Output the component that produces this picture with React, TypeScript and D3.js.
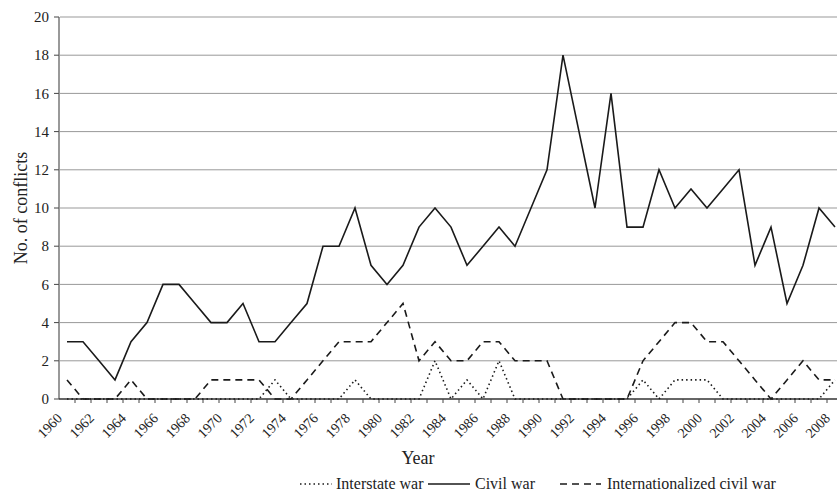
import { useMemo } from "react";
import { scaleBand, scaleLinear, line, range } from "d3";

const years = range(1960, 2009);
const civilWar = [
  3, 3, 2, 1, 3, 4, 6, 6, 5, 4, 4, 5, 3, 3, 4, 5, 8, 8, 10, 7, 6, 7, 9, 10, 9,
  7, 8, 9, 8, 10, 12, 18, 14, 10, 16, 9, 9, 12, 10, 11, 10, 11, 12, 7, 9, 5, 7,
  10, 9,
];
const internationalized = [
  1, 0, 0, 0, 1, 0, 0, 0, 0, 1, 1, 1, 1, 0, 0, 1, 2, 3, 3, 3, 4, 5, 2, 3, 2, 2,
  3, 3, 2, 2, 2, 0, 0, 0, 0, 0, 2, 3, 4, 4, 3, 3, 2, 1, 0, 1, 2, 1, 1,
];
const interstate = [
  0, 0, 0, 0, 0, 0, 0, 0, 0, 0, 0, 0, 0, 1, 0, 0, 0, 0, 1, 0, 0, 0, 0, 2, 0, 1,
  0, 2, 0, 0, 0, 0, 0, 0, 0, 0, 1, 0, 1, 1, 1, 0, 0, 0, 0, 0, 0, 0, 1,
];
const yTicks = [0, 2, 4, 6, 8, 10, 12, 14, 16, 18, 20];
const xLabels = years.filter((y) => (y - 1960) % 2 === 0);

const series = [
  { name: "Interstate war", values: interstate, dash: "1.5,3" },
  { name: "Civil war", values: civilWar, dash: null },
  { name: "Internationalized civil war", values: internationalized, dash: "7,5" },
];

const font = '"Liberation Serif", "DejaVu Serif", "Times New Roman", serif';
const width = 837;
const height = 497;
const plot = { left: 59, right: 843, top: 17, bottom: 399 };

export default function App() {
  const xScale = useMemo(
    () =>
      scaleBand<number>()
        .domain(years)
        .range([plot.left, plot.right])
        .padding(0),
    []
  );
  const yScale = useMemo(
    () => scaleLinear().domain([0, 20]).range([plot.bottom, plot.top]),
    []
  );
  const cx = (y: number) => (xScale(y) as number) + xScale.bandwidth() / 2;

  const lineGen = line<number>()
    .x((d, i) => cx(years[i]))
    .y((d) => yScale(d));

  return (
    <div style={{ position: "absolute", left: 0, top: 0 }}>
      <svg
        width={width}
        height={height}
        style={{ display: "block", background: "#fff", fontFamily: font }}
      >
        {/* grid + y axis */}
        {yTicks.map((t) => (
          <g key={t}>
            {t > 0 && (
              <line
                x1={plot.left + 1}
                x2={width}
                y1={yScale(t)}
                y2={yScale(t)}
                stroke="#999"
                strokeWidth={1}
              />
            )}
            <line
              x1={plot.left - 5}
              x2={plot.left}
              y1={yScale(t)}
              y2={yScale(t)}
              stroke="#444"
            />
            <text
              x={plot.left - 10}
              y={yScale(t)}
              dy="0.35em"
              textAnchor="end"
              style={{ fontFamily: font }}
              fontSize={15}
              fill="#222"
            >
              {t}
            </text>
          </g>
        ))}
        <line x1={plot.left} x2={plot.left} y1={plot.top} y2={plot.bottom} stroke="#555" strokeWidth={1.2} />
        <line x1={plot.left} x2={width} y1={plot.bottom} y2={plot.bottom} stroke="#333" strokeWidth={1.5} />

        {/* x ticks */}
        {years.slice(1).map((y) => (
          <line
            key={y}
            x1={xScale(y)}
            x2={xScale(y)}
            y1={plot.bottom}
            y2={plot.bottom + 4}
            stroke="#444"
          />
        ))}
        {xLabels.map((y) => (
          <text
            key={y}
            transform={`translate(${cx(y) - 4},${plot.bottom + 20}) rotate(-45)`}
            textAnchor="end"
            style={{ fontFamily: font }}
            fontSize={14}
            fill="#222"
          >
            {y}
          </text>
        ))}

        {/* lines */}
        {series.map((s) => (
          <path
            key={s.name}
            d={lineGen(s.values) || ""}
            fill="none"
            stroke="#1a1a1a"
            strokeWidth={1.6}
            strokeDasharray={s.dash || undefined}
          />
        ))}

        {/* axis titles */}
        <text
          transform="translate(21,208) rotate(-90)"
          textAnchor="middle"
          dy="0.35em"
          style={{ fontFamily: font }}
          fontSize={18}
          fill="#222"
        >
          No. of conflicts
        </text>
        <text x={418} y={464} textAnchor="middle" style={{ fontFamily: font }} fontSize={18} fill="#222">
          Year
        </text>

        {/* legend */}
        <g style={{ fontFamily: font }} fontSize={16} fill="#222">
          <line x1={300} x2={332} y1={484} y2={484} stroke="#1a1a1a" strokeWidth={1.6} strokeDasharray="1.5,3" />
          <text x={336} y={489}>Interstate war</text>
          <line x1={428} x2={470} y1={484} y2={484} stroke="#1a1a1a" strokeWidth={1.6} />
          <text x={475} y={489}>Civil war</text>
          <line x1={560} x2={601} y1={484} y2={484} stroke="#1a1a1a" strokeWidth={1.6} strokeDasharray="7,5" />
          <text x={607} y={489}>Internationalized civil war</text>
        </g>
      </svg>
    </div>
  );
}
